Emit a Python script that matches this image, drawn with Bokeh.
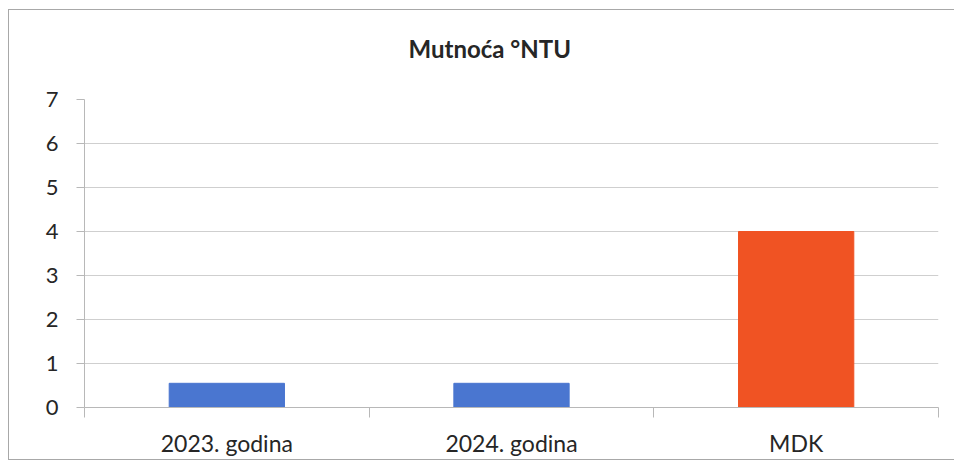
from bokeh.plotting import figure
from bokeh.models import Range1d, FixedTicker, ColumnDataSource, Title
from bokeh.embed import file_html
from bokeh.resources import INLINE

categories = ["2023. godina", "2024. godina", "MDK"]
values = [0.55, 0.55, 4.0]
colors = ["#4a76d0", "#4a76d0", "#f05323"]
y_ticks = [0, 1, 2, 3, 4, 5, 6, 7]

xpos = [i + 0.5 for i in range(len(categories))]
src = ColumnDataSource(dict(x=xpos, top=values, color=colors, cat=categories))

p = figure(width=946, height=451, output_backend="svg", toolbar_location=None,
           x_range=Range1d(0, len(categories)), y_range=Range1d(0, 7),
           min_border_left=75, min_border_right=17, min_border_top=89, min_border_bottom=54)
p.styles = {"border-left": "1px solid #a8a8a8", "border-top": "1px solid #a8a8a8",
            "border-bottom": "1px solid #a8a8a8", "box-sizing": "border-box",
            "margin-left": "8px", "margin-top": "9px"}

p.title.text = "Mutnoća °NTU"
p.title.align = "left"
p.title.offset = 324
p.title.text_font = "Lato"
p.title.text_font_size = "24px"
p.title.text_font_style = "bold"
p.title.text_color = "#262626"

p.add_layout(Title(text=" ", text_font_size="18px"), "above")

p.vbar(x="x", top="top", width=0.405, color="color", source=src)

p.outline_line_color = None
p.xgrid.grid_line_color = None
p.ygrid.grid_line_color = "#cfcfcf"
p.ygrid.ticker = FixedTicker(ticks=y_ticks)

xa = p.xaxis[0]
xa.ticker = FixedTicker(ticks=xpos, minor_ticks=list(range(len(categories) + 1)))
xa.major_label_overrides = {x: c for x, c in zip(xpos, categories)}
xa.major_tick_line_color = None
xa.major_tick_out = 0
xa.major_tick_in = 0
xa.minor_tick_line_color = "#b8b8b8"
xa.minor_tick_out = 10
xa.minor_tick_in = 0
xa.axis_line_color = "#b8b8b8"
xa.major_label_standoff = 11
xa.major_label_text_font = "Lato"
xa.major_label_text_font_size = "23px"
xa.major_label_text_color = "#262626"

ya = p.yaxis[0]
ya.ticker = FixedTicker(ticks=y_ticks)
ya.minor_tick_line_color = None
ya.major_tick_line_color = "#b8b8b8"
ya.major_tick_out = 8
ya.major_tick_in = 0
ya.axis_line_color = "#b8b8b8"
ya.major_label_standoff = 18
ya.major_label_text_font = "Lato"
ya.major_label_text_font_size = "22px"
ya.major_label_text_color = "#262626"

open("out.html", "w").write(file_html(p, INLINE))
